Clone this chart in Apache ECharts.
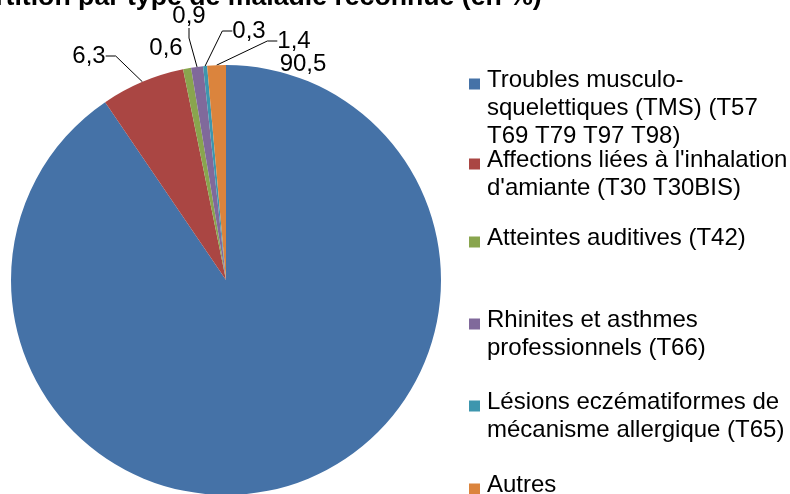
<!DOCTYPE html>
<html>
<head>
<meta charset="utf-8">
<script src="https://cdn.jsdelivr.net/npm/echarts@6/dist/echarts.min.js"></script>
<style>html,body{margin:0;padding:0;background:#fff}#c{width:790px;height:494px}</style>
</head>
<body>
<div id="c"></div>
<script>
const titleText = "Répartition par type de maladie reconnue (en %)";
const categories = [
  "Troubles musculo-squelettiques (TMS) (T57 T69 T79 T97 T98)",
  "Affections liées à l'inhalation d'amiante (T30 T30BIS)",
  "Atteintes auditives (T42)",
  "Rhinites et asthmes professionnels (T66)",
  "Lésions eczématiformes de mécanisme allergique (T65)",
  "Autres"
];
const legendLines = [
  ["Troubles musculo-", "squelettiques (TMS) (T57", "T69 T79 T97 T98)"],
  ["Affections liées à l'inhalation", "d'amiante (T30 T30BIS)"],
  ["Atteintes auditives (T42)"],
  ["Rhinites et asthmes", "professionnels (T66)"],
  ["Lésions eczématiformes de", "mécanisme allergique (T65)"],
  ["Autres"]
];
const values = [90.5, 6.3, 0.6, 0.9, 0.3, 1.4];
const colors = ["#4572A7", "#AA4643", "#89A54E", "#80699B", "#3D96AE", "#DB843D"];

// layout (not data): label text centres, leader-line style per label, legend item centres
const labelPos = [[303, 64], [89, 50], [166, 48], [189, 16], [249, 25], [294, 35]];
const showLine = [false, true, false, true, true, true];
const lowLeader = [false, true, false, false, true, true];
const legendCenters = [84, 164, 242, 324, 406, 489];

const FONT = "'Liberation Sans', Arial, sans-serif";
const FS = 24, LH = 28;
const ICON_W = 13, SQ = 11;
const LOW = 12;

const legends = categories.map((name, i) => {
  const n = legendLines[i].length;
  const h = n * LH;
  const y0 = LH / 2 - 1.5;
  const icon = `path://M0,0L0.01,0M${ICON_W},${h}L${ICON_W - 0.01},${h}` +
    `M0,${y0}L${SQ},${y0}L${SQ},${y0 + SQ}L0,${y0 + SQ}Z`;
  return {
    data: [{name, icon}],
    orient: 'vertical',
    left: 469,
    top: legendCenters[i] - (y0 + SQ / 2),
    padding: 0,
    itemWidth: ICON_W,
    itemHeight: h,
    itemGap: 0,
    selectedMode: false,
    itemStyle: {borderWidth: 0},
    formatter: () => legendLines[i].join('\n'),
    textStyle: {fontFamily: FONT, fontSize: FS, lineHeight: LH, color: '#000'}
  };
});

const chart = echarts.init(document.getElementById('c'), null, {renderer: 'canvas'});
chart.setOption({
  animation: false,
  backgroundColor: '#fff',
  title: {
    text: titleText,
    left: -70, top: -16, padding: 0,
    textStyle: {fontFamily: FONT, fontSize: 26.67, fontWeight: 'bold', color: '#000'}
  },
  legend: legends,
  series: [{
    type: 'pie',
    center: [226, 280],
    radius: 215,
    startAngle: 90,
    clockwise: true,
    avoidLabelOverlap: false,
    itemStyle: {borderWidth: 0},
    label: {
      show: true, position: 'outside',
      fontFamily: FONT, fontSize: FS, color: '#000', padding: [0, 4],
      formatter: p => p.value.toFixed(1).replace('.', ',')
    },
    labelLine: {show: true, length: 10, length2: 10, lineStyle: {color: '#000', width: 1}},
    labelLayout: p => ({
      x: labelPos[p.dataIndex][0],
      y: labelPos[p.dataIndex][1] + (lowLeader[p.dataIndex] ? LOW / 2 : 0),
      align: 'center',
      verticalAlign: 'middle'
    }),
    data: categories.map((name, i) => ({
      name, value: values[i],
      itemStyle: {color: colors[i]},
      label: lowLeader[i] ? {padding: [0, 4, LOW, 4]} : {},
      labelLine: {show: showLine[i]}
    }))
  }]
});
</script>
</body>
</html>
